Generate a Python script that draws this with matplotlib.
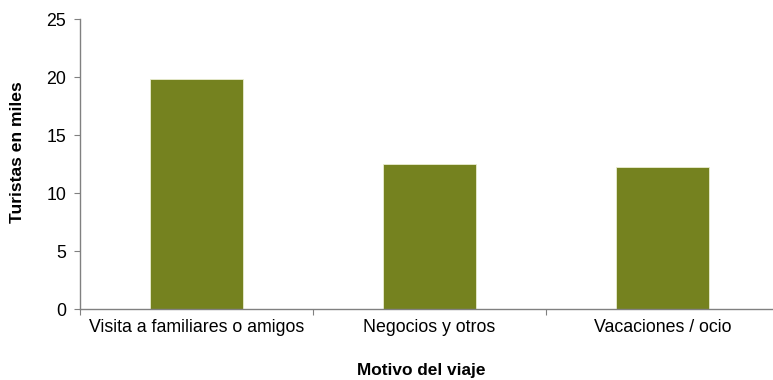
import matplotlib
matplotlib.use("Agg")
import matplotlib.pyplot as plt

categories = ["Visita a familiares o amigos", "Negocios y otros", "Vacaciones / ocio"]
values = [19.8, 12.5, 12.2]
yticks = [0, 5, 10, 15, 20, 25]

plt.rcParams['font.family'] = ['Liberation Sans', 'DejaVu Sans']

W, H = 773, 380
fig = plt.figure(figsize=(W/100, H/100), dpi=100)
ax = fig.add_axes([80/W, 1 - 309/H, 1 - 80/W, (309-19)/H])

x = list(range(len(categories)))
ax.bar(x, values, width=0.4, color='#75821F', edgecolor='#e9edd0', linewidth=0.6, zorder=2)
ax.set_xlim(-0.5, (W - 80)/233 - 0.5)
ax.set_ylim(0, 25)
ax.set_yticks(yticks)
ax.set_yticklabels([str(t) for t in yticks], fontsize=12.8)
ax.set_xticks([i + 0.5 for i in range(len(categories) - 1)] + [-0.5])
ax.set_xticklabels([])
ax.set_xticks(x, minor=True)
ax.set_xticklabels(categories, minor=True, fontsize=12.8)
ax.tick_params(axis='x', which='minor', length=0, pad=7)
ax.tick_params(axis='x', which='major', length=4, direction='out', color='#808080')
ax.tick_params(axis='y', length=4, direction='out', color='#808080', pad=6)

for s in ['top', 'right']:
    ax.spines[s].set_visible(False)
for s in ['left', 'bottom']:
    ax.spines[s].set_color('#808080')
    ax.spines[s].set_linewidth(1.0)

fig.text(18/W, 1 - 152/H, 'Turistas en miles', rotation=90, ha='center', va='center',
         fontsize=12.6, fontweight='bold')
fig.text(421/W, 1 - 370/H, 'Motivo del viaje', ha='center', va='center',
         fontsize=12.4, fontweight='bold')

fig.savefig('out.png', dpi=100)
